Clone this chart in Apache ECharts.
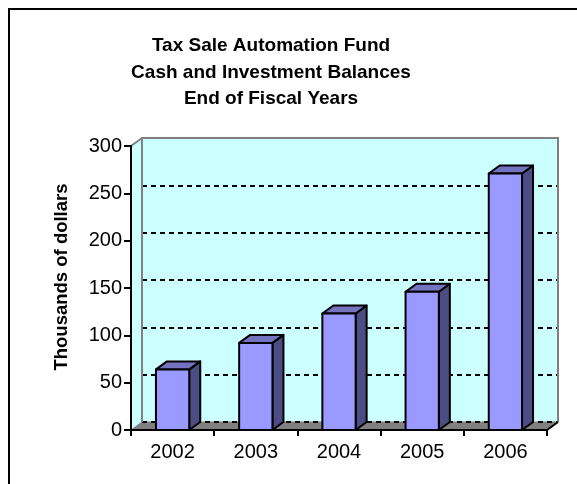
<!DOCTYPE html>
<html>
<head>
<meta charset="utf-8">
<script src="https://cdn.jsdelivr.net/npm/echarts@6/dist/echarts.min.js"></script>
<style>
  html, body { margin: 0; padding: 0; background: #fff; }
  #chart { width: 577px; height: 484px; }
</style>
</head>
<body>
<div id="chart"></div>
<script>
// data
const years = ['2002', '2003', '2004', '2005', '2006']
const balances = [64, 92, 123, 146, 271]   // thousands of dollars
const yTicks = [0, 50, 100, 150, 200, 250, 300]

const FONT = 'Liberation Sans, Arial, sans-serif'
const DX = 11, DY = -8          // depth offset of the 3d effect
const FRONT = { left: 131, top: 146, width: 416, height: 284 }
const BACK  = { left: FRONT.left + DX, top: FRONT.top + DY, width: FRONT.width, height: FRONT.height }

const chart = echarts.init(document.getElementById('chart'), null, { renderer: 'canvas' })

// side wall + floor, drawn from the front grid's rect (under the gridlines)
function renderRoom(params, api) {
  const cs = params.coordSys
  const l = cs.x, t = cs.y, r = cs.x + cs.width, b = cs.y + cs.height
  return {
    type: 'group',
    children: [
      { type: 'polygon', shape: { points: [[l, t], [l + DX, t + DY], [l + DX, b + DY], [l, b]] },
        style: { fill: '#CCFFFF', stroke: null } },
      { type: 'polygon', shape: { points: [[l, b], [l + DX, b + DY], [r + DX, b + DY], [r, b]] },
        style: { fill: '#808080', stroke: '#808080', lineWidth: 1 } },
    ],
  }
}

// wall edges drawn above the gridlines
function renderEdges(params, api) {
  const cs = params.coordSys
  const l = cs.x, t = cs.y, r = cs.x + cs.width, b = cs.y + cs.height
  const gray = { stroke: '#808080', lineWidth: 2, fill: null }
  return {
    type: 'group',
    children: [
      { type: 'polyline', shape: { points: [[l + DX, b + DY], [l + DX, t + DY], [r + DX, t + DY], [r + DX, b + DY]] },
        style: gray },
      { type: 'line', shape: { x1: l, y1: t, x2: l + DX, y2: t + DY }, style: gray },
      { type: 'line', shape: { x1: r, y1: b, x2: r + DX, y2: b + DY },
        style: { stroke: '#000', lineWidth: 2 } },
    ],
  }
}

function renderBar(params, api) {
  const i = api.value(0)
  const v = api.value(1)
  const p0 = api.coord([i, 0])
  const p1 = api.coord([i, v])
  const bw = api.size([1, 0])[0] * 0.4
  const x0 = p0[0] - bw / 2, x1 = x0 + bw
  const yb = p0[1], yt = p1[1]
  const edge = { stroke: '#000', lineWidth: 2, lineJoin: 'round' }
  return {
    type: 'group',
    children: [
      { type: 'polygon', shape: { points: [[x1, yt], [x1 + DX, yt + DY], [x1 + DX, yb + DY], [x1, yb]] },
        style: Object.assign({ fill: '#4D4D85' }, edge) },
      { type: 'polygon', shape: { points: [[x0, yt], [x0 + DX, yt + DY], [x1 + DX, yt + DY], [x1, yt]] },
        style: Object.assign({ fill: '#7373C0' }, edge) },
      { type: 'rect', shape: { x: x0, y: yt, width: bw, height: yb - yt },
        style: Object.assign({ fill: '#9999FF' }, edge) },
    ],
  }
}

const option = {
  backgroundColor: '#fff',
  animation: false,
  title: {
    text: 'Tax Sale Automation Fund\nCash and Investment Balances\nEnd of Fiscal Years',
    left: 266,
    top: 28,
    textAlign: 'center',
    textStyle: { fontFamily: FONT, fontSize: 19, fontWeight: 'bold', color: '#000', lineHeight: 26.5 },
  },
  graphic: [
    { type: 'rect', z: 0, shape: { x: 9, y: 9, width: 620, height: 520 },
      style: { fill: null, stroke: '#000', lineWidth: 2 } },
  ],
  grid: [
    // back wall
    Object.assign({ show: true, backgroundColor: '#CCFFFF', borderWidth: 0, z: 0 }, BACK),
    // front plane (axes)
    Object.assign({ show: false }, FRONT),
  ],
  xAxis: [
    { gridIndex: 0, type: 'category', data: years, show: false },
    {
      gridIndex: 1, type: 'category', data: years, z: 5,
      axisLine: { lineStyle: { color: '#000', width: 2 } },
      axisTick: { show: true, length: 6, lineStyle: { color: '#000', width: 2 } },
      axisLabel: { fontFamily: FONT, fontSize: 20, color: '#000', margin: 12 },
      splitLine: { show: false },
    },
  ],
  yAxis: [
    {
      gridIndex: 0, type: 'value', min: yTicks[0], max: yTicks[yTicks.length - 1], interval: 50, z: 2,
      axisLine: { show: false }, axisTick: { show: false }, axisLabel: { show: false },
      splitLine: { show: true, lineStyle: { color: '#000', width: 2, type: [5, 4] } },
    },
    {
      gridIndex: 1, type: 'value', min: yTicks[0], max: yTicks[yTicks.length - 1], interval: 50, z: 5,
      name: 'Thousands of dollars',
      nameLocation: 'middle',
      nameGap: 60,
      nameTextStyle: { fontFamily: FONT, fontSize: 18.5, fontWeight: 'bold', color: '#000', padding: [0, 0, 0, 22] },
      axisLine: { show: true, lineStyle: { color: '#000', width: 2 } },
      axisTick: { show: true, length: 7, lineStyle: { color: '#000', width: 2 } },
      axisLabel: { fontFamily: FONT, fontSize: 20, color: '#000', margin: 9 },
      splitLine: { show: false },
    },
  ],
  series: [
    { type: 'custom', xAxisIndex: 1, yAxisIndex: 1, z: 1, renderItem: renderRoom,
      data: [[0, 0]], silent: true },
    { type: 'custom', xAxisIndex: 1, yAxisIndex: 1, z: 2.5, renderItem: renderEdges,
      data: [[0, 0]], silent: true },
    { type: 'custom', xAxisIndex: 1, yAxisIndex: 1, z: 3, renderItem: renderBar,
      data: balances.map((v, i) => [i, v]) },
  ],
}

chart.setOption(option)
</script>
</body>
</html>
